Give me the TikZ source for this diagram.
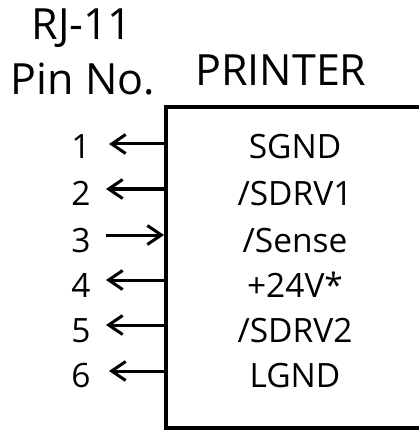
\documentclass[tikz,border=0pt]{standalone}
\usepackage{fontspec}
\setmainfont{Open Sans}
\usetikzlibrary{arrows.meta}
\begin{document}
\begin{tikzpicture}[x=1pt,y=-1pt,
  head/.style={font=\fontsize{43}{43}\selectfont, inner sep=0pt, anchor=base},
  row/.style={font=\fontsize{33.5}{33.5}\selectfont, inner sep=0pt, anchor=base},
  arr/.style={line width=3pt, -{Straight Barb[length=14pt,width=19pt,line width=3pt]}},
  boxline/.style={line width=3.6pt}]
\useasboundingbox (0,0) rectangle (419,430);
\clip (0,0) rectangle (419,430);
\fill[white] (0,0) rectangle (419,430);
% printer box
\draw[boxline] (440,107) -- (166,107) -- (166,428) -- (440,428);
% headings
\node[head] (rj) at (82,40) {RJ-11};
\node[head] (pin) at (83,95) {Pin No.};
\node[head] (prt) at (281,86) {PRINTER};
% rows
\foreach \i/\s/\b in {1/SGND/159, 2/{/SDRV1}/205, 3/{/Sense}/252, 4/{+24V*}/297, 5/{/SDRV2}/342, 6/LGND/387}{
  \node[row] (s\i) at (295,\b) {\s};
  \node[row] (n\i) at (81,\b) {\i};
}
% arrow end points
\coordinate (e1) at (166,144); \coordinate (t1) at (109,144);
\coordinate (e2) at (166,189); \coordinate (t2) at (106,189);
\coordinate (e3) at (164,235); \coordinate (t3) at (106,235);
\coordinate (e4) at (166,280); \coordinate (t4) at (106,280);
\coordinate (e5) at (166,325); \coordinate (t5) at (106,325);
\coordinate (e6) at (166,371); \coordinate (t6) at (109,371);
\draw[arr] (e1) -- (t1);
\draw[arr] (e2) -- (t2);
\draw[arr] (t3) -- (e3);
\draw[arr] (e4) -- (t4);
\draw[arr] (e5) -- (t5);
\draw[arr] (e6) -- (t6);
\end{tikzpicture}
\end{document}
